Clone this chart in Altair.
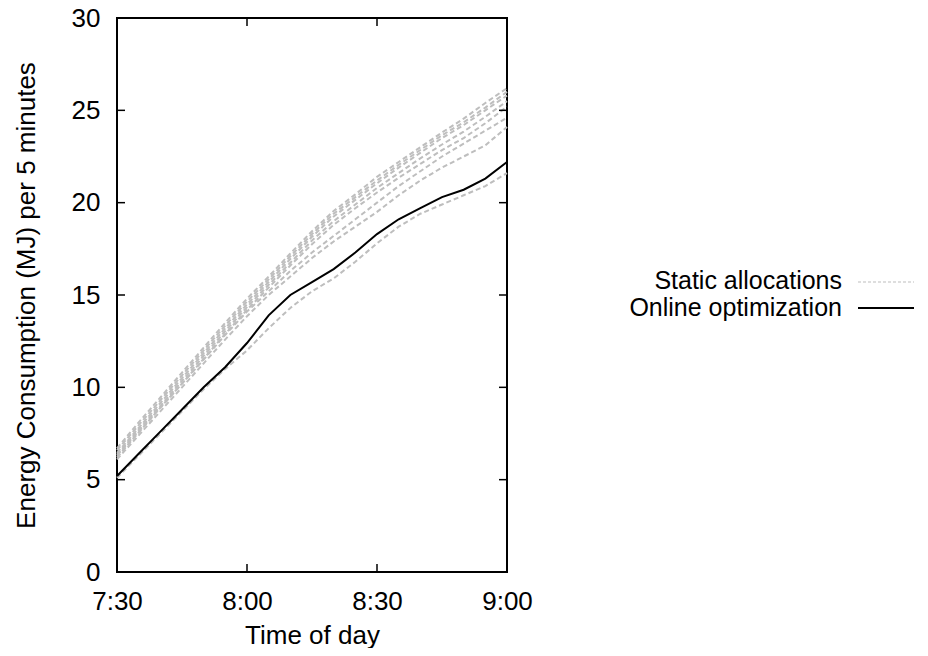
import altair as alt
import pandas as pd

# ---------------- data ----------------
times = ["7:30", "7:35", "7:40", "7:45", "7:50", "7:55", "8:00", "8:05", "8:10", "8:15",
         "8:20", "8:25", "8:30", "8:35", "8:40", "8:45", "8:50", "8:55", "9:00"]

online = [5.2, 6.4, 7.6, 8.8, 10.0, 11.1, 12.4, 13.9, 15.0, 15.7,
          16.4, 17.3, 18.3, 19.1, 19.7, 20.3, 20.7, 21.3, 22.2]

static_1 = [6.7, 8.1, 9.45, 10.8, 12.15, 13.5, 14.8, 16.0, 17.25, 18.45,
            19.55, 20.45, 21.4, 22.2, 23.0, 23.8, 24.55, 25.4, 26.2]
static_2 = [6.6, 7.95, 9.3, 10.65, 12.0, 13.35, 14.65, 15.85, 17.1, 18.3,
            19.4, 20.3, 21.2, 22.05, 22.85, 23.65, 24.35, 25.15, 26.0]
static_3 = [6.45, 7.8, 9.15, 10.5, 11.85, 13.2, 14.5, 15.7, 16.95, 18.15,
            19.25, 20.15, 21.05, 21.9, 22.7, 23.5, 24.2, 25.0, 25.8]
static_4 = [6.35, 7.7, 9.0, 10.35, 11.7, 13.05, 14.35, 15.55, 16.75, 17.95,
            19.0, 19.9, 20.8, 21.6, 22.4, 23.15, 23.85, 24.65, 25.5]
static_5 = [6.2, 7.55, 8.9, 10.2, 11.55, 12.9, 14.2, 15.4, 16.6, 17.75,
            18.8, 19.7, 20.55, 21.35, 22.1, 22.85, 23.5, 24.3, 25.2]
static_6 = [6.3, 7.6, 8.9, 10.2, 11.5, 12.85, 14.1, 15.2, 16.3, 17.3,
            18.2, 19.1, 20.0, 20.9, 21.7, 22.5, 23.2, 23.9, 24.6]
static_7 = [6.1, 7.4, 8.7, 10.0, 11.3, 12.6, 13.85, 15.0, 16.0, 17.0,
            17.9, 18.7, 19.5, 20.4, 21.2, 21.9, 22.5, 23.1, 24.1]
static_8 = [5.1, 6.3, 7.5, 8.7, 9.9, 11.0, 12.0, 13.2, 14.3, 15.2,
            15.9, 16.8, 17.8, 18.7, 19.4, 19.9, 20.4, 20.9, 21.6]

static_runs = [static_1, static_2, static_3, static_4,
               static_5, static_6, static_7, static_8]

legend_labels = ["Static allocations", "Online optimization"]
x_tick_labels = ["7:30", "8:00", "8:30", "9:00"]
y_ticks = [0, 5, 10, 15, 20, 25, 30]

x_title = "Time of day"
y_title = "Energy Consumption (MJ) per 5 minutes"

# ---------------- build tables ----------------
def minutes(t):
    h, m = t.split(":")
    return int(h) * 60 + int(m) - 450

rows = []
for i, run in enumerate(static_runs):
    for t, v in zip(times, run):
        rows.append({"t": minutes(t), "v": v, "run": f"static{i}", "kind": legend_labels[0]})
for t, v in zip(times, online):
    rows.append({"t": minutes(t), "v": v, "run": "online", "kind": legend_labels[1]})
df = pd.DataFrame(rows)

xt = pd.DataFrame({"t": [minutes(s) for s in x_tick_labels]})
yt = pd.DataFrame({"v": y_ticks})
leg = pd.DataFrame({"kind": legend_labels, "row": [0, 1]})

# ---------------- style ----------------
W, H = 390, 554
FONT = "Liberation Sans"
FS = 26
GRAY = "#bebebe"
TICK = 8

label_expr = "[" + ",".join(f"'{s}'" for s in x_tick_labels) + "][datum.value / 30]"

x_enc = alt.X("t:Q",
              scale=alt.Scale(domain=[0, 90], nice=False, zero=False),
              axis=alt.Axis(values=[minutes(s) for s in x_tick_labels], labelExpr=label_expr,
                            title=x_title, labelPadding=16, titlePadding=8, labelFlush=False))
y_enc = alt.Y("v:Q",
              scale=alt.Scale(domain=[0, 30], nice=False),
              axis=alt.Axis(values=y_ticks, title=y_title, labelPadding=17, titlePadding=32,
                            labelFlush=False))

color = alt.Color("kind:N", scale=alt.Scale(domain=legend_labels, range=[GRAY, "black"]), legend=None)

static_lines = alt.Chart(df).transform_filter(
    alt.datum.kind == legend_labels[0]
).mark_line(strokeWidth=2, strokeDash=[5, 3]).encode(
    x=x_enc, y=y_enc, detail="run:N", color=color
)

online_line = alt.Chart(df).transform_filter(
    alt.datum.kind == legend_labels[1]
).mark_line(strokeWidth=2).encode(
    x=alt.X("t:Q"), y=alt.Y("v:Q"), color=color
)

tick_style = dict(color="black", strokeWidth=1.5)
tick_top = alt.Chart(xt).mark_rule(**tick_style).encode(x="t:Q", y=alt.value(0), y2=alt.value(TICK))
tick_bot = alt.Chart(xt).mark_rule(**tick_style).encode(x="t:Q", y=alt.value(H), y2=alt.value(H - TICK))
tick_left = alt.Chart(yt).mark_rule(**tick_style).encode(y="v:Q", x=alt.value(0), x2=alt.value(TICK))
tick_right = alt.Chart(yt).mark_rule(**tick_style).encode(y="v:Q", x=alt.value(W - TICK), x2=alt.value(W))

# legend (gnuplot style: text right-aligned, sample to its right)
legend_text_x = 725
legend_line_x = (741, 797)
legend_rows_y = [271, 298]
legend_line_y = [264, 290]
legend_dash = [[3, 2], [1, 0]]
legend_width = [1.2, 2]

legend_layers = []
for r in range(2):
    base = alt.Chart(leg).transform_filter(alt.datum.row == r)
    legend_layers.append(
        base.mark_text(align="right", baseline="alphabetic", font=FONT, fontSize=25, color="black")
        .encode(x=alt.value(legend_text_x), y=alt.value(legend_rows_y[r]), text="kind:N")
    )
    legend_layers.append(
        base.mark_rule(strokeWidth=legend_width[r], strokeDash=legend_dash[r])
        .encode(x=alt.value(legend_line_x[0]), x2=alt.value(legend_line_x[1]),
                y=alt.value(legend_line_y[r]), color=color)
    )

chart = alt.layer(
    static_lines, online_line, tick_top, tick_bot, tick_left, tick_right, *legend_layers
).properties(
    width=W, height=H,
    autosize=alt.AutoSizeParams(type="none"),
    padding={"left": 109, "top": 10, "right": 407, "bottom": 76},
    background="white",
).configure_view(
    stroke="black", strokeWidth=2
).configure_axis(
    labelFont=FONT, titleFont=FONT, labelFontSize=FS, titleFontSize=FS,
    labelColor="black", titleColor="black", titleFontWeight="normal",
    grid=False, domain=False, ticks=False, tickSize=0,
)

chart.save("out.html", embed_options={"renderer": "svg", "actions": False})
